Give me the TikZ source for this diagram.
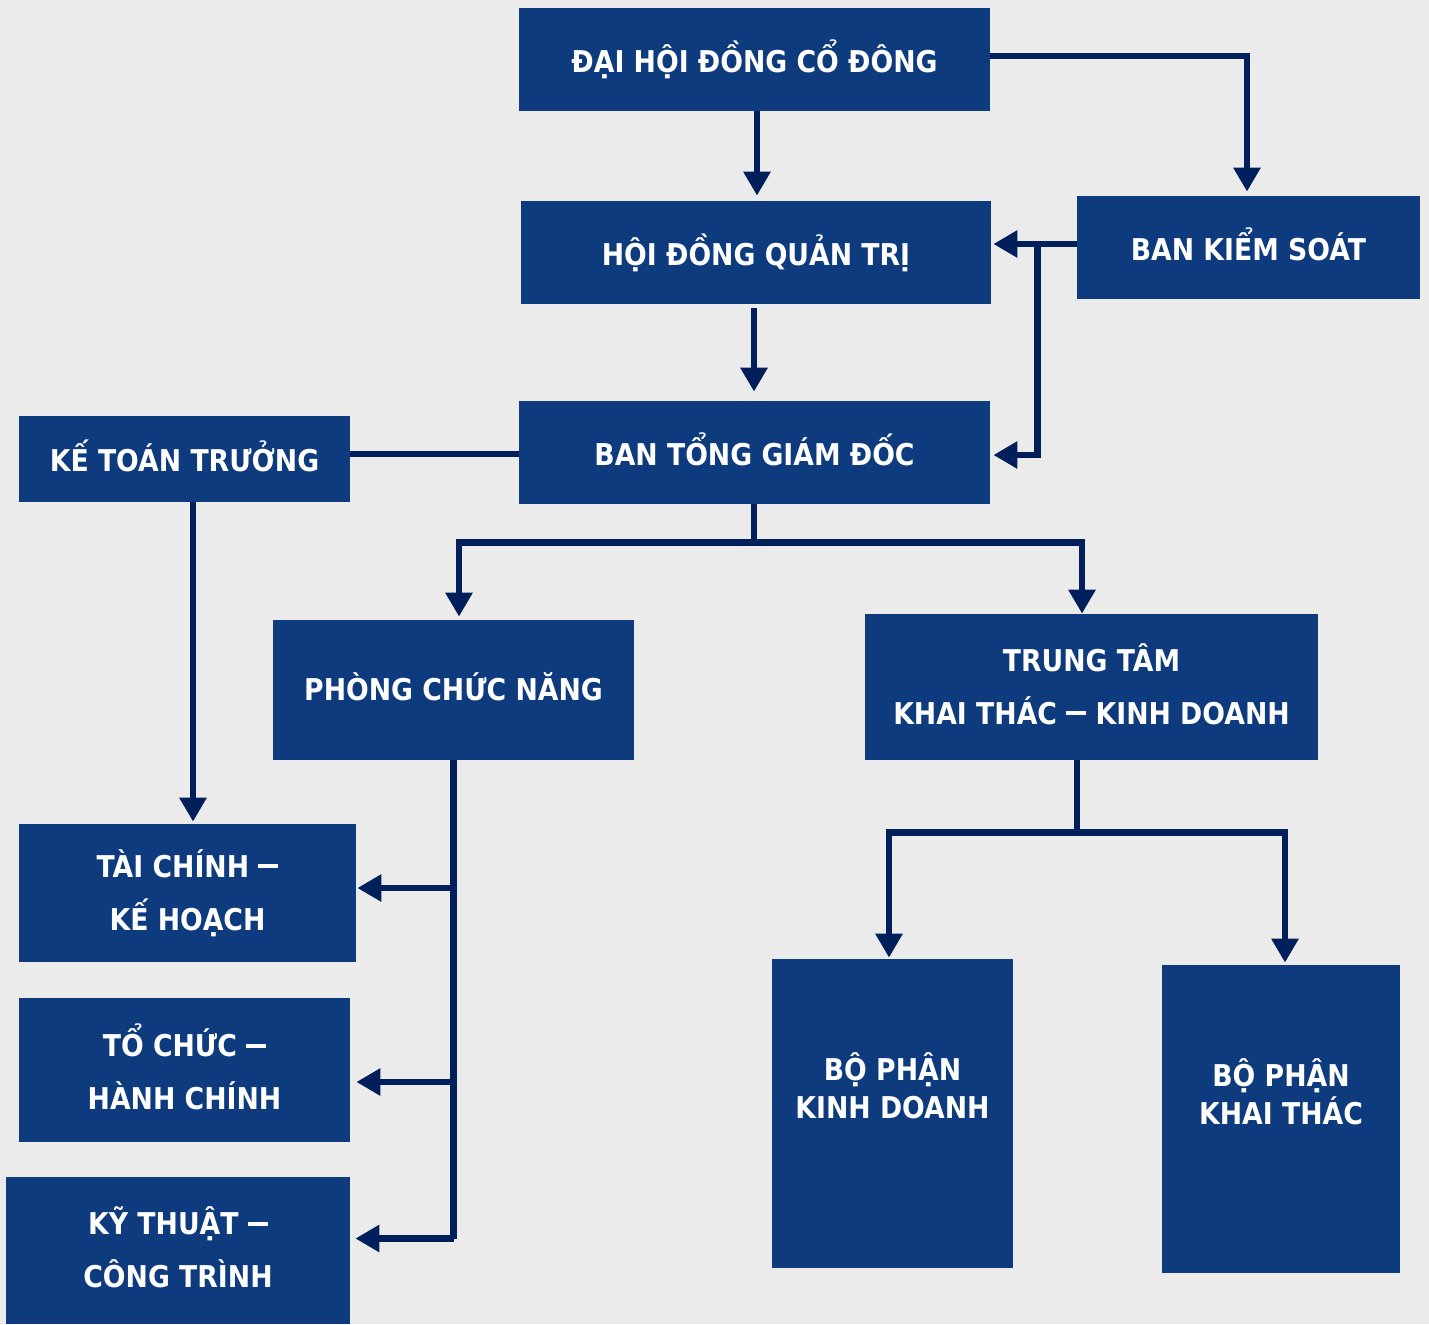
\documentclass[tikz,border=0pt]{standalone}
\usepackage{fontspec}
\newfontfamily\boxfont{DejaVu Sans}[FakeStretch=0.89]
\usetikzlibrary{arrows.meta,calc}
\definecolor{boxblue}{HTML}{0E3B7E}
\definecolor{linenavy}{HTML}{001F5B}
\definecolor{bgray}{HTML}{EBEBEB}
\newcommand\dsh{\rule[4.6pt]{10pt}{1.9pt}}
\begin{document}
\begin{tikzpicture}[x=0.5pt,y=-0.5pt,
  box/.style={fill=boxblue, draw=none, text=white, inner sep=0pt, align=center,
    font=\boxfont\bfseries\fontsize{15}{26.5}\selectfont},
  lbl/.style={text=white, inner sep=0pt, align=center,
    font=\boxfont\bfseries\fontsize{15}{19}\selectfont},
  conn/.style={draw=linenavy, line width=3.4pt, line join=miter},
  arr/.style={conn, -{Triangle[length=12pt,width=13pt]}}]
\fill[bgray] (0,0) rectangle (1429,1324);
\useasboundingbox (0,0) rectangle (1429,1324);

% boxes
\node[box, minimum width=235.5pt, minimum height=51.5pt] (dh) at (754.5,59.5) {ĐẠI HỘI ĐỒNG CỔ ĐÔNG\vphantom{p}};
\node[box, minimum width=235pt, minimum height=51.5pt] (hd) at (756,252.5) {HỘI ĐỒNG QUẢN TRỊ};
\node[box, minimum width=171.5pt, minimum height=51.5pt] (bks) at (1248.5,247.5) {BAN KIỂM SOÁT\vphantom{p}};
\node[box, minimum width=235.5pt, minimum height=51.5pt] (btgd) at (754.5,452.5) {BAN TỔNG GIÁM ĐỐC\vphantom{p}};
\node[box, minimum width=165.5pt, minimum height=43pt] (ktt) at (184.5,459) {KẾ TOÁN TRƯỞNG\vphantom{p}};
\node[box, minimum width=180.5pt, minimum height=70pt] (pcn) at (453.5,690) {PHÒNG CHỨC NĂNG\vphantom{p}};
\node[box, minimum width=226.5pt, minimum height=73pt] (tt) at (1091.5,687) {TRUNG TÂM\\KHAI THÁC \dsh{} KINH DOANH\vphantom{p}};
\node[box, minimum width=168.5pt, minimum height=69pt] (tckh) at (187.5,893) {TÀI CHÍNH \dsh\\KẾ HOẠCH\vphantom{p}};
\node[box, minimum width=165.5pt, minimum height=72pt] (tchc) at (184.5,1070) {TỔ CHỨC \dsh\\HÀNH CHÍNH\vphantom{p}};
\node[box, minimum width=172pt, minimum height=73.5pt] (ktct) at (178,1250.5) {KỸ THUẬT \dsh\\CÔNG TRÌNH\vphantom{p}};
\node[box, minimum width=120.5pt, minimum height=154.5pt] (bpkd) at (892.5,1113.5) {};
\node[box, minimum width=119pt, minimum height=154pt] (bpkt) at (1281,1119) {};
\node[lbl] (bpkdt) at ($(bpkd)+(0,-28)$) {BỘ PHẬN\\KINH DOANH};
\node[lbl] (bpktt) at ($(bpkt)+(0,-27.5)$) {BỘ PHẬN\\KHAI THÁC};

% helper coordinates on the boxes
\coordinate (a1) at ($(dh.south)+(2.5,0)$);
\coordinate (a0) at ($(hd.north)+(0,-5)$);
\coordinate (a2) at ($(dh.east)+(0,-3.5)$);
\coordinate (a3) at ($(bks.north)+(-1.5,-4)$);
\coordinate (a4) at ($(hd.south)+(-2,4)$);
\coordinate (a5) at ($(btgd.north)+(0,-9)$);
\coordinate (a6) at ($(bks.west)+(0,-3.5)$);
\coordinate (a7) at ($(hd.east)+(2,0)$);
\coordinate (a8) at ($(bks.west)+(-39,-3.5)$);
\coordinate (a9) at ($(btgd.east)+(3,2.5)$);
\coordinate (b1) at ($(btgd.west)+(0,1.5)$);
\coordinate (b2) at ($(ktt.south)+(8.5,0)$);
\coordinate (b3) at ($(tckh.north)+(0,-2)$);
\coordinate (jb) at ($(btgd.south)+(-0.5,38)$);
\coordinate (b4) at ($(pcn.north)+(5.5,-3)$);
\coordinate (b5) at ($(tt.north)+(-9.5,0)$);
\coordinate (c0) at ($(pcn.south)+(0,0)$);
\coordinate (c1) at ($(tckh.east)+(1,-5)$);
\coordinate (c2) at ($(tchc.east)+(6,12)$);
\coordinate (c3) at ($(ktct.east)+(5,-12)$);
\coordinate (d0) at ($(tt.south)+(-14.5,0)$);
\coordinate (jt) at ($(tt.south)+(-14.5,72)$);
\coordinate (d1) at ($(bpkd.north)+(-3.5,-1)$);
\coordinate (d2) at ($(bpkt.north)+(4,-2)$);

% connectors
\draw[arr] (a1) -- (a1 |- a0);
\draw[arr] (a2) -| (a3);
\draw[arr] (a4) -- (a4 |- a5);
\draw[arr] (a6) -- (a7 |- a6);
\draw[arr] (a8) |- (a9);
\draw[conn] (b1) -- (ktt.east |- b1);
\draw[arr] (b2) -- (b2 |- b3);

\draw[conn] (btgd.south -| jb) -- (jb);
\draw[arr] (jb) -| (b4);
\draw[arr] (jb) -| (b5);

\draw[conn] (c0) -- (c0 |- c3);
\draw[arr] (c0 |- c1) -- (c1);
\draw[arr] (c0 |- c2) -- (c2);
\draw[arr] (c0 |- c3) -- (c3);

\draw[conn] (d0) -- (jt);
\draw[arr] (jt) -| (d1);
\draw[arr] (jt) -| (d2);
\end{tikzpicture}
\end{document}
